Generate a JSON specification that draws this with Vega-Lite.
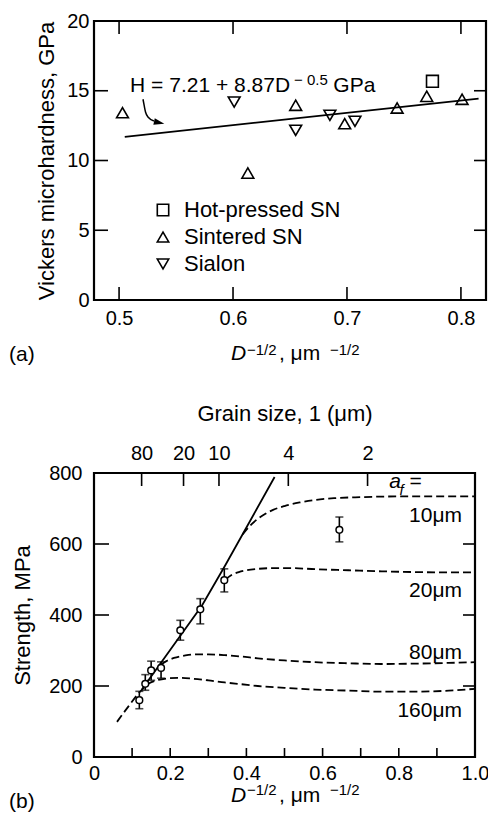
{
  "$schema": "https://vega.github.io/schema/vega-lite/v6.json",
  "padding": {"left": 7, "top": 9, "right": 2, "bottom": 4},
  "background": "white",
  "bounds": "flush",
  "spacing": 173,
  "config": {
    "font": "Liberation Sans",
    "view": {"stroke": "black", "strokeWidth": 2.2},
    "axis": {"domain": false, "grid": false, "ticks": false, "labelColor": "black", "titleColor": "black", "labelFont": "Liberation Sans", "titleFont": "Liberation Sans", "labelFontSize": 20, "titleFontSize": 22, "titleFontWeight": "normal", "labelFlush": false, "labelOverlap": false},
    "text": {"font": "Liberation Sans", "color": "black"}
  },
  "vconcat": [
    {
      "width": 392,
      "height": 279,
      "resolve": {"axis": {"x": "independent", "y": "independent"}},
      "layer": [
        {
          "data": {"values": [{"v": 0.5, "e": 0}, {"v": 0.6, "e": 0}, {"v": 0.7, "e": 0}, {"v": 0.8, "e": 0}]},
          "mark": {"type": "point", "shape": "M0,0L0,-2", "filled": false, "stroke": "black", "strokeWidth": 1.6, "size": 169, "opacity": 1},
          "encoding": {
            "x": {"field": "v", "type": "quantitative", "scale": {"domain": [0.478, 0.822], "nice": false, "zero": false}, "axis": null},
            "y": {"field": "e", "type": "quantitative", "scale": {"domain": [0, 20], "nice": false, "zero": false}, "axis": null}
          }
        },
        {
          "data": {"values": [{"v": 0.5, "e": 20}, {"v": 0.6, "e": 20}, {"v": 0.7, "e": 20}, {"v": 0.8, "e": 20}]},
          "mark": {"type": "point", "shape": "M0,0L0,2", "filled": false, "stroke": "black", "strokeWidth": 1.6, "size": 169, "opacity": 1},
          "encoding": {
            "x": {"field": "v", "type": "quantitative", "scale": {"domain": [0.478, 0.822], "nice": false, "zero": false}, "axis": null},
            "y": {"field": "e", "type": "quantitative", "scale": {"domain": [0, 20], "nice": false, "zero": false}, "axis": null}
          }
        },
        {
          "data": {"values": [{"v": 5, "e": 0.478}, {"v": 10, "e": 0.478}, {"v": 15, "e": 0.478}]},
          "mark": {"type": "point", "shape": "M0,0L2,0", "filled": false, "stroke": "black", "strokeWidth": 1.6, "size": 196, "opacity": 1},
          "encoding": {
            "y": {"field": "v", "type": "quantitative", "scale": {"domain": [0, 20], "nice": false, "zero": false}, "axis": null},
            "x": {"field": "e", "type": "quantitative", "scale": {"domain": [0.478, 0.822], "nice": false, "zero": false}, "axis": null}
          }
        },
        {
          "data": {"values": [{"v": 5, "e": 0.822}, {"v": 10, "e": 0.822}, {"v": 15, "e": 0.822}]},
          "mark": {"type": "point", "shape": "M0,0L-2,0", "filled": false, "stroke": "black", "strokeWidth": 1.6, "size": 144, "opacity": 1},
          "encoding": {
            "y": {"field": "v", "type": "quantitative", "scale": {"domain": [0, 20], "nice": false, "zero": false}, "axis": null},
            "x": {"field": "e", "type": "quantitative", "scale": {"domain": [0.478, 0.822], "nice": false, "zero": false}, "axis": null}
          }
        },
        {
          "data": {"values": [{"x": 0.505, "y": 11.69}, {"x": 0.8155, "y": 14.44}]},
          "mark": {"type": "line", "color": "black", "strokeWidth": 1.8},
          "encoding": {
            "x": {"field": "x", "type": "quantitative", "scale": {"domain": [0.478, 0.822], "nice": false, "zero": false}, "axis": null},
            "y": {"field": "y", "type": "quantitative", "scale": {"domain": [0, 20], "nice": false, "zero": false}, "axis": null}
          }
        },
        {
          "data": {"values": [
            {"material": "Sintered SN", "x": 0.503, "y": 13.43},
            {"material": "Sintered SN", "x": 0.613, "y": 9.1},
            {"material": "Sintered SN", "x": 0.655, "y": 13.96},
            {"material": "Sintered SN", "x": 0.698, "y": 12.64},
            {"material": "Sintered SN", "x": 0.744, "y": 13.76},
            {"material": "Sintered SN", "x": 0.770, "y": 14.6},
            {"material": "Sintered SN", "x": 0.801, "y": 14.39},
            {"material": "Sialon", "x": 0.601, "y": 14.19},
            {"material": "Sialon", "x": 0.655, "y": 12.16},
            {"material": "Sialon", "x": 0.685, "y": 13.24},
            {"material": "Sialon", "x": 0.707, "y": 12.81},
            {"material": "Hot-pressed SN", "x": 0.775, "y": 15.68}
          ]},
          "mark": {"type": "point", "filled": false, "color": "black", "strokeWidth": 1.6, "size": 140, "opacity": 1},
          "encoding": {
            "x": {"field": "x", "type": "quantitative", "scale": {"domain": [0.478, 0.822], "nice": false, "zero": false}, "axis": {"orient": "bottom", "values": [0.5, 0.6, 0.7, 0.8], "format": ".1f", "labelPadding": 8, "title": null}},
            "y": {"field": "y", "type": "quantitative", "scale": {"domain": [0, 20], "nice": false, "zero": false}, "axis": {"orient": "left", "values": [0, 5, 10, 15, 20], "labelPadding": 5, "title": "Vickers microhardness, GPa", "titleX": -48, "titleY": 139.5, "titleBaseline": "middle", "titleAngle": -90}},
            "shape": {"field": "material", "type": "nominal", "scale": {"domain": ["Hot-pressed SN", "Sintered SN", "Sialon"], "range": ["square", "triangle-up", "triangle-down"]}, "legend": {"title": null, "orient": "none", "legendX": 58, "legendY": 178, "labelFontSize": 22, "labelFont": "Liberation Sans", "labelColor": "black", "symbolSize": 130, "symbolStrokeWidth": 1.6, "symbolStrokeColor": "black", "symbolFillColor": "transparent", "labelOffset": 10, "rowPadding": 5, "padding": 0}}
          }
        },
        {
          "data": {"values": [
            {"x": 0.521, "y": 14.39},
            {"x": 0.5221, "y": 13.91},
            {"x": 0.5232, "y": 13.48},
            {"x": 0.5258, "y": 13.08},
            {"x": 0.5306, "y": 12.83}
          ]},
          "mark": {"type": "line", "color": "black", "strokeWidth": 1.5, "interpolate": "monotone"},
          "encoding": {
            "x": {"field": "x", "type": "quantitative", "scale": {"domain": [0.478, 0.822], "nice": false, "zero": false}, "axis": null},
            "y": {"field": "y", "type": "quantitative", "scale": {"domain": [0, 20], "nice": false, "zero": false}, "axis": null}
          }
        },
        {
          "data": {"values": [{"x": 0.5352, "y": 12.72}]},
          "mark": {"type": "point", "shape": "M-1,-0.65L1,0L-1,0.65Z", "filled": true, "color": "black", "size": 110, "angle": 12, "opacity": 1},
          "encoding": {
            "x": {"field": "x", "type": "quantitative", "scale": {"domain": [0.478, 0.822], "nice": false, "zero": false}, "axis": null},
            "y": {"field": "y", "type": "quantitative", "scale": {"domain": [0, 20], "nice": false, "zero": false}, "axis": null}
          }
        },
        {
          "data": {"values": [
            {"t": "H = 7.21 + 8.87D", "x": 0.5097, "y": 14.91},
            {"t": "GPa", "x": 0.688, "y": 14.91},
            {"t": ",  μm", "x": 0.6403, "y": -4.32}
          ]},
          "mark": {"type": "text", "fontSize": 21, "align": "left", "baseline": "alphabetic", "color": "black"},
          "encoding": {
            "x": {"field": "x", "type": "quantitative", "scale": {"domain": [0.478, 0.822], "nice": false, "zero": false}, "axis": null},
            "y": {"field": "y", "type": "quantitative", "scale": {"domain": [0, 20], "nice": false, "zero": false}, "axis": null},
            "text": {"field": "t"}
          }
        },
        {
          "data": {"values": [
            {"t": "− 0.5", "x": 0.6535, "y": 15.41},
            {"t": "−1/2", "x": 0.6122, "y": -3.95},
            {"t": "−1/2", "x": 0.685, "y": -3.95}
          ]},
          "mark": {"type": "text", "fontSize": 15, "align": "left", "baseline": "alphabetic", "color": "black"},
          "encoding": {
            "x": {"field": "x", "type": "quantitative", "scale": {"domain": [0.478, 0.822], "nice": false, "zero": false}, "axis": null},
            "y": {"field": "y", "type": "quantitative", "scale": {"domain": [0, 20], "nice": false, "zero": false}, "axis": null},
            "text": {"field": "t"}
          }
        },
        {
          "data": {"values": [{"t": "D", "x": 0.5982, "y": -4.32}]},
          "mark": {"type": "text", "fontSize": 21, "fontStyle": "italic", "align": "left", "baseline": "alphabetic", "color": "black"},
          "encoding": {
            "x": {"field": "x", "type": "quantitative", "scale": {"domain": [0.478, 0.822], "nice": false, "zero": false}, "axis": null},
            "y": {"field": "y", "type": "quantitative", "scale": {"domain": [0, 20], "nice": false, "zero": false}, "axis": null},
            "text": {"field": "t"}
          }
        },
        {
          "data": {"values": [{"t": "(a)", "x": 0.4034, "y": -3.95}]},
          "mark": {"type": "text", "fontSize": 21, "align": "left", "baseline": "middle", "color": "black"},
          "encoding": {
            "x": {"field": "x", "type": "quantitative", "scale": {"domain": [0.478, 0.822], "nice": false, "zero": false}, "axis": null},
            "y": {"field": "y", "type": "quantitative", "scale": {"domain": [0, 20], "nice": false, "zero": false}, "axis": null},
            "text": {"field": "t"}
          }
        }
      ]
    },
    {
      "width": 381,
      "height": 284,
      "resolve": {"axis": {"x": "independent", "y": "independent"}},
      "layer": [
        {
          "data": {"values": [{"v": 0.1, "e": 0}, {"v": 0.2, "e": 0}, {"v": 0.3, "e": 0}, {"v": 0.4, "e": 0}, {"v": 0.5, "e": 0}, {"v": 0.6, "e": 0}, {"v": 0.7, "e": 0}, {"v": 0.8, "e": 0}, {"v": 0.9, "e": 0}]},
          "mark": {"type": "point", "shape": "M0,0L0,-2", "filled": false, "stroke": "black", "strokeWidth": 1.6, "size": 81, "opacity": 1},
          "encoding": {
            "x": {"field": "v", "type": "quantitative", "scale": {"domain": [0, 1], "nice": false, "zero": false}, "axis": null},
            "y": {"field": "e", "type": "quantitative", "scale": {"domain": [0, 800], "nice": false, "zero": false}, "axis": null}
          }
        },
        {
          "data": {"values": [{"v": 0.125, "e": 800}, {"v": 0.235, "e": 800}, {"v": 0.328, "e": 800}, {"v": 0.51, "e": 800}, {"v": 0.718, "e": 800}]},
          "mark": {"type": "point", "shape": "M0,0L0,2", "filled": false, "stroke": "black", "strokeWidth": 1.6, "size": 169, "opacity": 1},
          "encoding": {
            "x": {"field": "v", "type": "quantitative", "scale": {"domain": [0, 1], "nice": false, "zero": false}, "axis": {"orient": "top", "values": [0.125, 0.235, 0.328, 0.51, 0.718], "labelExpr": "datum.value < 0.18 ? '80' : datum.value < 0.28 ? '20' : datum.value < 0.4 ? '10' : datum.value < 0.6 ? '4' : '2'", "labelPadding": 10, "title": "Grain size, 1 (μm)", "titlePadding": 18}},
            "y": {"field": "e", "type": "quantitative", "scale": {"domain": [0, 800], "nice": false, "zero": false}, "axis": null}
          }
        },
        {
          "data": {"values": [{"v": 200, "e": 0}, {"v": 400, "e": 0}, {"v": 600, "e": 0}]},
          "mark": {"type": "point", "shape": "M0,0L2,0", "filled": false, "stroke": "black", "strokeWidth": 1.6, "size": 225, "opacity": 1},
          "encoding": {
            "y": {"field": "v", "type": "quantitative", "scale": {"domain": [0, 800], "nice": false, "zero": false}, "axis": null},
            "x": {"field": "e", "type": "quantitative", "scale": {"domain": [0, 1], "nice": false, "zero": false}, "axis": null}
          }
        },
        {
          "data": {"values": [{"v": 200, "e": 1}, {"v": 400, "e": 1}, {"v": 600, "e": 1}]},
          "mark": {"type": "point", "shape": "M0,0L-2,0", "filled": false, "stroke": "black", "strokeWidth": 1.6, "size": 144, "opacity": 1},
          "encoding": {
            "y": {"field": "v", "type": "quantitative", "scale": {"domain": [0, 800], "nice": false, "zero": false}, "axis": null},
            "x": {"field": "e", "type": "quantitative", "scale": {"domain": [0, 1], "nice": false, "zero": false}, "axis": null}
          }
        },
        {
          "data": {"values": [
            {"x": 0.126, "y": 190.7},
            {"x": 0.2835, "y": 427},
            {"x": 0.3446, "y": 540},
            {"x": 0.474, "y": 788.7}
          ]},
          "mark": {"type": "line", "color": "black", "strokeWidth": 1.8},
          "encoding": {
            "x": {"field": "x", "type": "quantitative", "scale": {"domain": [0, 1], "nice": false, "zero": false}, "axis": null},
            "y": {"field": "y", "type": "quantitative", "scale": {"domain": [0, 800], "nice": false, "zero": false}, "axis": null}
          }
        },
        {
          "data": {"values": [
            {"af": "10", "x": 0.39, "y": 627}, {"af": "10", "x": 0.41, "y": 652}, {"af": "10", "x": 0.43, "y": 671}, {"af": "10", "x": 0.45, "y": 685}, {"af": "10", "x": 0.47, "y": 696}, {"af": "10", "x": 0.50, "y": 707}, {"af": "10", "x": 0.54, "y": 717}, {"af": "10", "x": 0.58, "y": 724}, {"af": "10", "x": 0.63, "y": 729}, {"af": "10", "x": 0.70, "y": 732}, {"af": "10", "x": 0.80, "y": 734}, {"af": "10", "x": 0.90, "y": 734}, {"af": "10", "x": 1.0, "y": 734},
            {"af": "20", "x": 0.345, "y": 500}, {"af": "20", "x": 0.36, "y": 512}, {"af": "20", "x": 0.38, "y": 521}, {"af": "20", "x": 0.40, "y": 526}, {"af": "20", "x": 0.43, "y": 530}, {"af": "20", "x": 0.47, "y": 532}, {"af": "20", "x": 0.52, "y": 532}, {"af": "20", "x": 0.58, "y": 529}, {"af": "20", "x": 0.668, "y": 526}, {"af": "20", "x": 0.755, "y": 523}, {"af": "20", "x": 0.843, "y": 521}, {"af": "20", "x": 0.931, "y": 520}, {"af": "20", "x": 1.0, "y": 520},
            {"af": "80", "x": 0.176, "y": 260}, {"af": "80", "x": 0.19, "y": 270}, {"af": "80", "x": 0.21, "y": 279}, {"af": "80", "x": 0.24, "y": 286}, {"af": "80", "x": 0.27, "y": 289}, {"af": "80", "x": 0.30, "y": 289}, {"af": "80", "x": 0.343, "y": 287}, {"af": "80", "x": 0.387, "y": 283}, {"af": "80", "x": 0.43, "y": 278}, {"af": "80", "x": 0.50, "y": 272}, {"af": "80", "x": 0.58, "y": 267}, {"af": "80", "x": 0.668, "y": 264}, {"af": "80", "x": 0.755, "y": 262}, {"af": "80", "x": 0.843, "y": 263}, {"af": "80", "x": 0.931, "y": 265}, {"af": "80", "x": 1.0, "y": 267},
            {"af": "160", "x": 0.0604, "y": 99}, {"af": "160", "x": 0.09, "y": 142}, {"af": "160", "x": 0.126, "y": 190}, {"af": "160", "x": 0.145, "y": 208}, {"af": "160", "x": 0.165, "y": 216}, {"af": "160", "x": 0.19, "y": 221}, {"af": "160", "x": 0.22, "y": 223}, {"af": "160", "x": 0.255, "y": 221}, {"af": "160", "x": 0.30, "y": 216}, {"af": "160", "x": 0.343, "y": 210}, {"af": "160", "x": 0.387, "y": 205}, {"af": "160", "x": 0.43, "y": 200}, {"af": "160", "x": 0.50, "y": 195}, {"af": "160", "x": 0.58, "y": 190}, {"af": "160", "x": 0.668, "y": 187}, {"af": "160", "x": 0.755, "y": 184}, {"af": "160", "x": 0.843, "y": 184}, {"af": "160", "x": 0.931, "y": 187}, {"af": "160", "x": 1.0, "y": 192}
          ]},
          "mark": {"type": "line", "color": "black", "strokeWidth": 1.8, "strokeDash": [8, 4], "interpolate": "monotone"},
          "encoding": {
            "x": {"field": "x", "type": "quantitative", "scale": {"domain": [0, 1], "nice": false, "zero": false}, "axis": null},
            "y": {"field": "y", "type": "quantitative", "scale": {"domain": [0, 800], "nice": false, "zero": false}, "axis": null},
            "detail": {"field": "af", "type": "nominal"}
          }
        },
        {
          "data": {"values": [
            {"x": 0.119, "lo": 136, "hi": 185},
            {"x": 0.1346, "lo": 188, "hi": 232},
            {"x": 0.150, "lo": 216, "hi": 270},
            {"x": 0.176, "lo": 222, "hi": 268},
            {"x": 0.2265, "lo": 329, "hi": 385},
            {"x": 0.279, "lo": 375, "hi": 446},
            {"x": 0.342, "lo": 465, "hi": 530},
            {"x": 0.644, "lo": 606, "hi": 676}
          ]},
          "mark": {"type": "errorbar", "ticks": {"size": 8, "thickness": 1.6, "color": "black"}, "rule": {"strokeWidth": 1.6, "color": "black"}},
          "encoding": {
            "x": {"field": "x", "type": "quantitative", "scale": {"domain": [0, 1], "nice": false, "zero": false}, "axis": null},
            "y": {"field": "lo", "type": "quantitative", "scale": {"domain": [0, 800], "nice": false, "zero": false}, "axis": null},
            "y2": {"field": "hi"}
          }
        },
        {
          "data": {"values": [
            {"x": 0.119, "y": 160},
            {"x": 0.1346, "y": 206},
            {"x": 0.150, "y": 244},
            {"x": 0.176, "y": 251},
            {"x": 0.2265, "y": 357},
            {"x": 0.279, "y": 416},
            {"x": 0.342, "y": 498},
            {"x": 0.644, "y": 640}
          ]},
          "mark": {"type": "point", "shape": "circle", "filled": true, "fill": "white", "stroke": "black", "strokeWidth": 1.5, "size": 45, "opacity": 1},
          "encoding": {
            "x": {"field": "x", "type": "quantitative", "scale": {"domain": [0, 1], "nice": false, "zero": false}, "axis": {"orient": "bottom", "values": [0, 0.2, 0.4, 0.6, 0.8, 1.0], "labelExpr": "datum.value == 0 ? '0' : format(datum.value, '.1f')", "labelPadding": 6, "title": null}},
            "y": {"field": "y", "type": "quantitative", "scale": {"domain": [0, 800], "nice": false, "zero": false}, "axis": {"orient": "left", "values": [0, 200, 400, 600, 800], "labelPadding": 12, "title": "Strength, MPa", "titleX": -72, "titleY": 142, "titleBaseline": "middle", "titleAngle": -90}}
          }
        },
        {
          "data": {"values": [
            {"t": "10μm", "x": 0.966, "y": 662},
            {"t": "20μm", "x": 0.966, "y": 450.7},
            {"t": "80μm", "x": 0.966, "y": 277},
            {"t": "160μm", "x": 0.966, "y": 112.7}
          ]},
          "mark": {"type": "text", "fontSize": 21, "align": "right", "baseline": "alphabetic", "color": "black"},
          "encoding": {
            "x": {"field": "x", "type": "quantitative", "scale": {"domain": [0, 1], "nice": false, "zero": false}, "axis": null},
            "y": {"field": "y", "type": "quantitative", "scale": {"domain": [0, 800], "nice": false, "zero": false}, "axis": null},
            "text": {"field": "t"}
          }
        },
        {
          "data": {"values": [
            {"t": "=", "x": 0.828, "y": 757.7},
            {"t": ",  μm", "x": 0.4856, "y": -126}
          ]},
          "mark": {"type": "text", "fontSize": 21, "align": "left", "baseline": "alphabetic", "color": "black"},
          "encoding": {
            "x": {"field": "x", "type": "quantitative", "scale": {"domain": [0, 1], "nice": false, "zero": false}, "axis": null},
            "y": {"field": "y", "type": "quantitative", "scale": {"domain": [0, 800], "nice": false, "zero": false}, "axis": null},
            "text": {"field": "t"}
          }
        },
        {
          "data": {"values": [
            {"t": "a", "x": 0.775, "y": 757.7},
            {"t": "D", "x": 0.3596, "y": -126}
          ]},
          "mark": {"type": "text", "fontSize": 21, "fontStyle": "italic", "align": "left", "baseline": "alphabetic", "color": "black"},
          "encoding": {
            "x": {"field": "x", "type": "quantitative", "scale": {"domain": [0, 1], "nice": false, "zero": false}, "axis": null},
            "y": {"field": "y", "type": "quantitative", "scale": {"domain": [0, 800], "nice": false, "zero": false}, "axis": null},
            "text": {"field": "t"}
          }
        },
        {
          "data": {"values": [{"t": "f", "x": 0.802, "y": 738}]},
          "mark": {"type": "text", "fontSize": 15, "fontStyle": "italic", "align": "left", "baseline": "alphabetic", "color": "black"},
          "encoding": {
            "x": {"field": "x", "type": "quantitative", "scale": {"domain": [0, 1], "nice": false, "zero": false}, "axis": null},
            "y": {"field": "y", "type": "quantitative", "scale": {"domain": [0, 800], "nice": false, "zero": false}, "axis": null},
            "text": {"field": "t"}
          }
        },
        {
          "data": {"values": [
            {"t": "−1/2", "x": 0.4016, "y": -107.5},
            {"t": "−1/2", "x": 0.6194, "y": -107.5}
          ]},
          "mark": {"type": "text", "fontSize": 15, "align": "left", "baseline": "alphabetic", "color": "black"},
          "encoding": {
            "x": {"field": "x", "type": "quantitative", "scale": {"domain": [0, 1], "nice": false, "zero": false}, "axis": null},
            "y": {"field": "y", "type": "quantitative", "scale": {"domain": [0, 800], "nice": false, "zero": false}, "axis": null},
            "text": {"field": "t"}
          }
        },
        {
          "data": {"values": [{"t": "(b)", "x": -0.223, "y": -126.8}]},
          "mark": {"type": "text", "fontSize": 21, "align": "left", "baseline": "middle", "color": "black"},
          "encoding": {
            "x": {"field": "x", "type": "quantitative", "scale": {"domain": [0, 1], "nice": false, "zero": false}, "axis": null},
            "y": {"field": "y", "type": "quantitative", "scale": {"domain": [0, 800], "nice": false, "zero": false}, "axis": null},
            "text": {"field": "t"}
          }
        }
      ]
    }
  ]
}
